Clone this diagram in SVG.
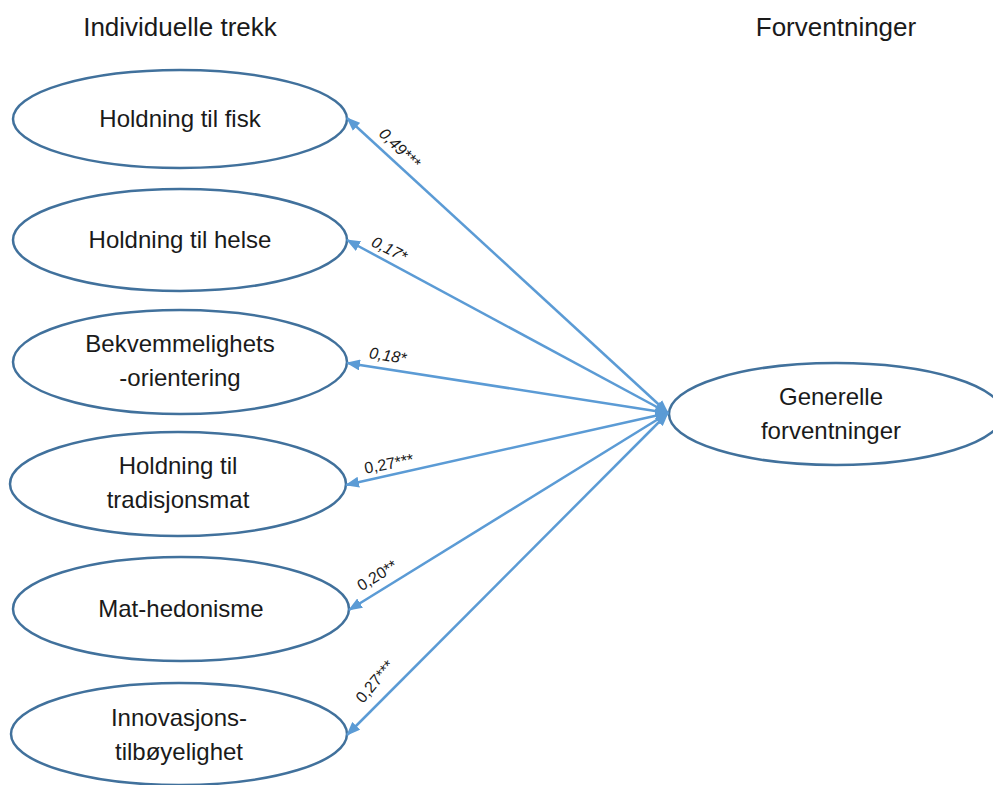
<svg xmlns="http://www.w3.org/2000/svg" width="993" height="785" viewBox="0 0 993 785">
<defs>
<marker id="ah" viewBox="0 0 14 11" refX="13" refY="5.5" markerWidth="14" markerHeight="11" markerUnits="userSpaceOnUse" orient="auto-start-reverse">
<path d="M0,0 L14,5.5 L0,11 z" fill="#5b9bd5"/>
</marker>
<style>
.node ellipse{fill:#ffffff;stroke:#41719c;stroke-width:2.5}
.node text,.title{font-family:"Liberation Sans",Arial,sans-serif;font-size:24px;fill:#1a1a1a;text-anchor:middle}
.title{font-size:26px}
.conn line{stroke:#5b9bd5;stroke-width:2.5;marker-start:url(#ah);marker-end:url(#ah)}
.lbl{font-family:"Liberation Sans",Arial,sans-serif;font-size:16px;fill:#1a1a1a;text-anchor:middle}
.it{font-style:italic}
</style>
</defs>
<rect width="993" height="785" fill="#ffffff"/>
<text class="title" x="180" y="36">Individuelle trekk</text>
<text class="title" x="836" y="36">Forventninger</text>

<g id="n1" class="node"><ellipse cx="180" cy="119" rx="167" ry="49"/><text x="180" y="127">Holdning til fisk</text></g>
<g id="n2" class="node"><ellipse cx="180" cy="240" rx="167" ry="51"/><text x="180" y="248">Holdning til helse</text></g>
<g id="n3" class="node"><ellipse cx="180" cy="362" rx="167" ry="52"/><text x="180" y="352">Bekvemmelighets</text><text x="180" y="386">-orientering</text></g>
<g id="n4" class="node"><ellipse cx="178" cy="484" rx="168" ry="52"/><text x="178" y="474">Holdning til</text><text x="178" y="508">tradisjonsmat</text></g>
<g id="n5" class="node"><ellipse cx="181" cy="609" rx="168" ry="52"/><text x="181" y="617">Mat-hedonisme</text></g>
<g id="n6" class="node"><ellipse cx="179" cy="734" rx="168" ry="51"/><text x="179" y="726">Innovasjons-</text><text x="179" y="760">tilbøyelighet</text></g>
<g id="n7" class="node"><ellipse cx="836" cy="414" rx="167" ry="51"/><text x="831" y="405">Generelle</text><text x="831" y="439">forventninger</text></g>

<g id="connectors" class="conn">
<line x1="668" y1="413" x2="347" y2="118"/>
<line x1="668" y1="413" x2="347" y2="240"/>
<line x1="668" y1="413" x2="347" y2="363"/>
<line x1="668" y1="413" x2="346" y2="485"/>
<line x1="668" y1="413" x2="349" y2="610"/>
<line x1="668" y1="413" x2="347" y2="735"/>
</g>
<g id="labels">
<text class="lbl it" transform="translate(396,152) rotate(44)">0,49***</text>
<text class="lbl it" transform="translate(387,254) rotate(27)">0,17*</text>
<text class="lbl it" transform="translate(387,361) rotate(9)">0,18*</text>
<text class="lbl" transform="translate(390,469) rotate(-11)">0,27***</text>
<text class="lbl" transform="translate(380,580) rotate(-32)">0,20**</text>
<text class="lbl" transform="translate(379,685) rotate(-50)">0,27***</text>
</g>
</svg>
